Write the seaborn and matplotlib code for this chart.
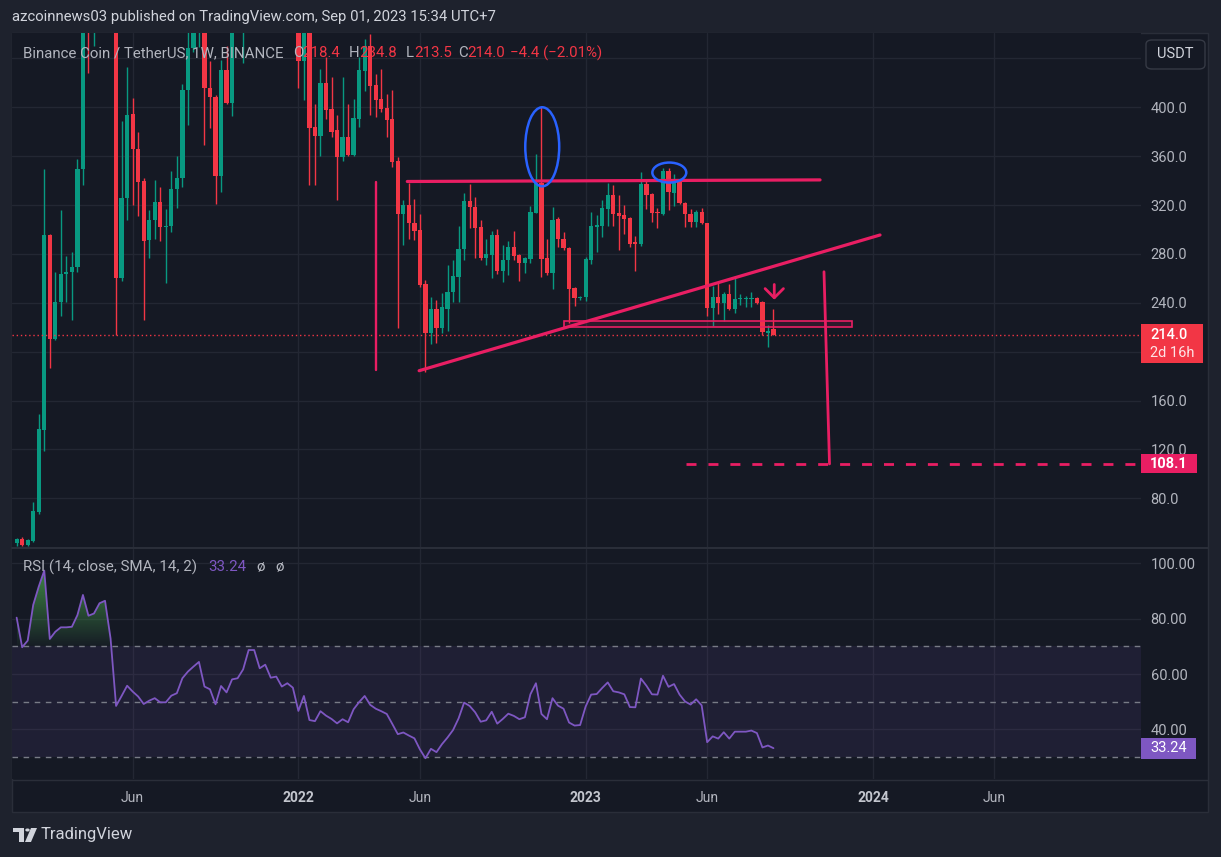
import matplotlib
matplotlib.use("Agg")
import numpy as np
import pandas as pd
import matplotlib.pyplot as plt
import matplotlib.dates as mdates
import matplotlib.transforms as mtransforms
from matplotlib.path import Path
from matplotlib.lines import Line2D
from matplotlib.colors import to_rgb
from matplotlib.patches import Rectangle, Ellipse, FancyBboxPatch, Polygon, Circle
import seaborn as sns

# weekly BNB/USDT candles, first week 2021-01-11
START = "2021-01-11"
opens = [43.1, 46.4, 42.0, 45.0, 69.0, 136.2, 295.5, 210.4, 240.7, 263.3,
         265.0, 269.3, 349.5, 510.0, 498.0, 530.0, 610.0, 640.0, 520.0, 260.6,
         325.5, 394.5, 365.6, 339.5, 291.0, 307.8, 322.5, 302.3, 302.5, 332.9,
         341.9, 414.2, 448.3, 490.0, 498.0, 416.0, 408.7, 344.0, 430.6, 403.8,
         470.0, 485.0, 550.0, 590.0, 640.0, 570.0, 600.0, 580.0, 540.0, 530.0,
         545.0, 512.0, 438.2, 470.0, 384.2, 376.5, 420.2, 398.6, 381.4, 359.6,
         376.0, 361.0, 390.5, 430.0, 450.2, 418.3, 406.5, 399.7, 390.5, 356.1,
         312.4, 320.1, 305.6, 299.6, 255.4, 215.5, 234.6, 219.6, 234.6, 248.6,
         261.4, 283.8, 323.3, 318.1, 301.8, 277.0, 279.1, 295.5, 266.3, 275.0,
         285.9, 279.1, 272.9, 275.8, 313.8, 337.8, 276.4, 264.7, 308.6, 292.0,
         284.6, 251.8, 243.7, 245.0, 275.0, 302.3, 302.9, 316.8, 328.2, 313.8,
         311.9, 309.1, 289.8, 288.1, 337.2, 329.0, 314.6, 312.7, 347.9, 330.2,
         339.2, 322.0, 312.4, 306.4, 314.0, 305.0, 235.5, 245.0, 239.6, 247.2,
         234.6, 242.8, 242.8, 243.3, 244.2, 240.7, 215.4, 218.4]
highs = [47.7, 48.3, 47.0, 77.0, 149.0, 349.5, 296.5, 265.0, 316.0, 278.0,
         281.6, 357.7, 530.0, 638.0, 560.0, 630.0, 692.0, 660.0, 560.0, 389.0,
         433.0, 407.6, 379.8, 342.0, 316.0, 340.5, 334.8, 317.0, 348.0, 360.0,
         419.0, 472.0, 505.0, 518.0, 520.0, 438.0, 410.0, 438.7, 450.0, 490.0,
         500.0, 560.0, 610.0, 670.0, 650.0, 620.0, 640.0, 600.0, 560.0, 570.0,
         580.0, 530.0, 490.0, 490.0, 402.7, 431.4, 441.5, 425.0, 393.7, 425.0,
         402.7, 406.5, 441.0, 455.7, 460.0, 427.3, 431.0, 411.0, 414.2, 359.6,
         324.1, 337.8, 324.7, 312.4, 258.7, 245.0, 242.3, 247.8, 270.9, 275.0,
         302.9, 329.6, 337.2, 326.9, 307.8, 292.0, 298.8, 300.1, 287.3, 290.9,
         298.8, 279.9, 277.8, 319.2, 361.8, 400.0, 292.2, 318.7, 310.0, 298.2,
         286.0, 253.2, 245.8, 277.2, 314.6, 311.9, 324.1, 337.8, 336.4, 328.2,
         320.0, 310.5, 294.7, 347.0, 340.5, 330.2, 317.3, 350.1, 350.3, 345.4,
         341.0, 322.5, 316.8, 316.0, 317.3, 305.6, 253.8, 256.0, 249.1, 255.4,
         262.0, 247.2, 245.6, 249.1, 245.0, 241.7, 221.8, 234.8]
lows = [41.0, 41.0, 41.2, 44.0, 67.0, 119.0, 187.0, 209.6, 229.0, 240.7,
        226.0, 265.5, 336.4, 428.0, 450.5, 500.0, 590.0, 470.0, 213.4, 258.0,
        307.8, 320.0, 311.3, 226.2, 277.0, 292.0, 290.9, 256.0, 298.0, 317.9,
        334.5, 385.5, 445.0, 449.0, 369.0, 383.0, 320.9, 330.7, 402.7, 393.0,
        462.0, 436.0, 520.0, 570.0, 530.0, 550.0, 500.0, 500.0, 480.0, 510.0,
        500.0, 415.6, 406.0, 336.4, 336.4, 360.2, 390.2, 376.0, 324.1, 356.3,
        360.2, 360.0, 384.2, 413.6, 393.7, 391.8, 396.5, 376.0, 351.0, 219.6,
        287.3, 292.0, 291.4, 253.2, 183.0, 206.0, 206.8, 215.5, 217.0, 240.9,
        240.9, 275.0, 301.0, 276.4, 275.0, 270.9, 260.0, 263.6, 257.3, 262.8,
        275.0, 258.1, 264.7, 272.9, 313.8, 261.4, 262.8, 251.0, 286.0, 283.2,
        223.2, 237.4, 242.3, 241.7, 271.5, 281.9, 294.0, 302.9, 302.9, 283.2,
        296.3, 286.0, 266.3, 286.5, 316.8, 306.4, 301.0, 311.9, 316.0, 319.5,
        320.9, 302.3, 302.3, 302.3, 304.2, 229.2, 221.0, 230.8, 225.0, 234.1,
        232.0, 238.0, 236.3, 236.8, 239.0, 213.6, 204.0, 213.5]
closes = [46.4, 42.0, 46.0, 69.6, 136.7, 295.5, 210.4, 240.7, 263.3, 265.5,
          269.3, 349.5, 510.0, 498.0, 530.0, 610.0, 640.0, 520.0, 260.6, 325.5,
          393.7, 365.6, 339.2, 290.9, 307.8, 322.5, 302.3, 303.0, 332.9, 341.9,
          414.2, 448.3, 490.0, 498.0, 416.0, 408.7, 344.0, 430.6, 403.8, 470.0,
          485.0, 550.0, 590.0, 640.0, 570.0, 600.0, 580.0, 540.0, 530.0, 545.0,
          512.0, 438.2, 470.0, 383.4, 376.5, 420.2, 397.8, 380.0, 359.6, 376.0,
          361.0, 391.0, 430.6, 450.2, 417.7, 406.0, 398.6, 389.6, 355.5, 312.4,
          320.1, 305.6, 298.8, 254.6, 215.5, 234.6, 219.6, 236.3, 248.6, 262.0,
          284.0, 323.3, 318.1, 301.5, 277.0, 280.0, 295.5, 266.3, 275.0, 285.9,
          278.6, 272.9, 276.9, 314.6, 337.8, 275.8, 264.7, 307.8, 292.0, 284.6,
          251.0, 243.7, 245.0, 275.6, 302.9, 303.7, 317.3, 328.2, 313.0, 311.0,
          308.6, 288.1, 288.1, 337.2, 328.2, 313.8, 313.2, 347.9, 331.0, 339.2,
          321.4, 312.4, 306.4, 314.0, 305.0, 235.5, 245.0, 239.6, 247.2, 234.6,
          242.8, 243.3, 243.7, 244.2, 240.1, 216.4, 217.2, 214.0]
rsi = [80.4, 69.7, 72.1, 85.0, 91.6, 97.4, 72.7, 75.3, 76.9, 76.9,
       77.1, 81.3, 88.6, 81.1, 81.9, 85.6, 86.5, 72.9, 48.5, 52.1,
       55.8, 53.7, 51.9, 49.2, 50.4, 51.3, 49.8, 49.8, 52.2, 53.1,
       58.5, 60.9, 62.7, 64.4, 55.5, 54.5, 49.1, 55.7, 53.4, 58.1,
       58.5, 61.7, 68.7, 68.7, 62.1, 63.4, 58.7, 59.1, 55.5, 56.7,
       55.1, 46.7, 52.1, 43.4, 43.0, 46.6, 45.0, 43.8, 42.2, 43.7,
       42.6, 47.3, 49.9, 52.1, 48.9, 47.5, 46.6, 45.6, 42.0, 38.3,
       38.9, 37.8, 36.8, 32.8, 29.6, 33.0, 31.8, 34.7, 37.1, 39.8,
       44.0, 49.7, 48.5, 46.2, 42.8, 43.3, 46.4, 42.1, 43.8, 45.7,
       44.9, 43.7, 44.4, 52.7, 56.7, 45.6, 43.7, 51.3, 48.6, 47.5,
       42.5, 41.4, 41.6, 48.3, 52.6, 52.8, 55.0, 57.0, 53.8, 53.4,
       52.7, 48.1, 48.0, 58.4, 55.8, 52.7, 52.6, 59.4, 55.4, 56.4,
       52.6, 50.1, 49.0, 50.9, 48.7, 35.4, 37.5, 36.7, 39.0, 36.7,
       39.2, 39.2, 39.2, 39.6, 38.7, 33.5, 34.2, 33.24]

price_ticks = [80, 120, 160, 200, 240, 280, 320, 360, 400, 440]
rsi_ticks = [40, 60, 80, 100]
time_ticks = ["2021-06-07", "2022-01-03", "2022-06-06", "2023-01-02",
              "2023-06-05", "2024-01-01", "2024-06-03"]
time_labels = ["Jun", "2022", "Jun", "2023", "Jun", "2024", "Jun"]
last_price = 214.0
target_price = 108.1

# chart drawings (date, price)
resistance = (["2022-05-21", "2023-10-26"], [339.3, 340.6])
pole = (["2022-04-11", "2022-04-11"], [339.1, 185.0])
trendline = (["2022-06-05", "2024-01-10"], [184.4, 295.5])
zone = ("2022-12-06", "2023-12-06", 220.4, 224.8)
drop = (["2023-10-31", "2023-11-07"], [265.4, target_price])
target_from = "2023-05-09"
arrow = ("2023-08-29", 255.0, 242.5)
ellipses = [("2022-11-08", 367.7, 43, 64.7), ("2023-04-18", 346.6, 43, 16.4)]

BG_OUT = "#1e222d"
BG = "#151924"
GRID = "#232733"
TXT = "#b2b5be"
UP = "#089981"
DN = "#f23645"
PINK = "#e91e63"
BLUE = "#2962ff"
PURPLE = "#7e57c2"
FS = 10.5

sns.set_theme(style="dark")
plt.rcParams["font.family"] = ["Roboto", "DejaVu Sans"]

W, H = 1221, 857
fig = plt.figure(figsize=(W / 100, H / 100), dpi=100, facecolor=BG_OUT)


def fx(px):
    return px / W


def fy(py):
    return 1 - py / H


D = lambda s: mdates.date2num(pd.Timestamp(s))

fig.add_artist(Rectangle((fx(12), fy(812)), fx(1208) - fx(12), fy(33) - fy(812),
                         transform=fig.transFigure, fc=BG, ec="#2a2e39", lw=1, zorder=0))

ax = fig.add_axes([fx(12.3), fy(547), fx(1141) - fx(12.3), fy(33.3) - fy(547)])
axr = fig.add_axes([fx(12.3), fy(779), fx(1141) - fx(12.3), fy(549) - fy(779)], sharex=ax)

x = mdates.date2num(pd.date_range(START, periods=len(opens), freq="7D"))
o, h, l, c = (np.array(v) for v in (opens, highs, lows, closes))
cols = np.where(c >= o, UP, DN)

for a in (ax, axr):
    a.set_facecolor(BG)
    for s in a.spines.values():
        s.set_visible(False)
    a.grid(True, color=GRID, lw=1)
    a.set_axisbelow(True)

# candles
ax.vlines(x, l, h, colors=cols, lw=1, zorder=3)
ax.bar(x, np.maximum(np.abs(c - o), 0.9), bottom=np.minimum(o, c), width=5.4,
       color=cols, linewidth=0, zorder=4)
ax.axhline(last_price, color=DN, ls=(0, (1, 2)), lw=1, zorder=5)

# drawings
ax.plot([D(d) for d in resistance[0]], resistance[1], color=PINK, lw=2.3, zorder=6)
ax.plot([D(d) for d in pole[0]], pole[1], color=PINK, lw=1.7, zorder=6)
ax.plot([D(d) for d in trendline[0]], trendline[1], color=PINK, lw=2.3, zorder=6)
ax.add_patch(Rectangle((D(zone[0]), zone[2]), D(zone[1]) - D(zone[0]), zone[3] - zone[2],
                       fc=(*to_rgb(PINK), 0.12), ec=PINK, lw=1.2, zorder=6))
ax.plot([D(d) for d in drop[0]], drop[1], color=PINK, lw=2, zorder=6)
xmin, xmax = D("2022-01-03") - 362.5, D("2022-01-03") + 1067.7
ax.plot([D(target_from), xmax], [target_price, target_price], color=PINK, lw=2,
        ls=(0, (3.6, 4.3)), zorder=6)
ax.annotate("", xy=(D(arrow[0]), arrow[2]), xytext=(D(arrow[0]), arrow[1]),
            arrowprops=dict(arrowstyle="->,head_width=0.55,head_length=0.55",
                            color=PINK, lw=2, shrinkA=0, shrinkB=0), zorder=7)
for d, p, w, hh in ellipses:
    ax.add_patch(Ellipse((D(d), p), w, hh, fill=False, ec=BLUE, lw=1.8, zorder=7))

ax.set_xlim(xmin, xmax)
ax.set_ylim(40.1, 460.6)
ax.set_yticks(price_ticks)
ax.set_yticklabels(["" if t in (200, 440) else f"{t:.1f}" for t in price_ticks])
ax.yaxis.tick_right()
ax.tick_params(axis="y", length=0, pad=7, labelcolor=TXT, labelsize=FS)
ax.tick_params(axis="x", length=0, labelbottom=False)
ax.set_xticks([D(t) for t in time_ticks])

# price scale boxes
bt = mtransforms.blended_transform_factory(ax.transAxes, ax.transData)
px_ax = 1 / (1141 - 12.3)
ax.add_patch(Rectangle((1.0, 190.7), 62 * px_ax, 31.9, transform=bt, fc=DN, ec="none",
                       clip_on=False, zorder=10))
ax.text(1.0 + 9 * px_ax, last_price, f"{last_price:.1f}", transform=bt, color="white",
        fontsize=FS, va="center", ha="left", zorder=11, clip_on=False, fontweight="medium")
ax.text(1.0 + 9 * px_ax, 199.1, "2d 16h", transform=bt, color="#fde3e6",
        fontsize=FS, va="center", ha="left", zorder=11, clip_on=False)
ax.add_patch(Rectangle((1.0, 100.4), 56 * px_ax, 15.8, transform=bt, fc=PINK, ec="none",
                       clip_on=False, zorder=10))
ax.text(1.0 + 9 * px_ax, target_price, f"{target_price:.1f}", transform=bt, color="white",
        fontsize=FS, va="center", ha="left", zorder=11, clip_on=False, fontweight="bold")

# RSI pane
r = np.array(rsi)
axr.axhspan(30, 70, color=PURPLE, alpha=0.1, lw=0, zorder=1)
for lev in (70, 50, 30):
    axr.axhline(lev, color="#787b86", lw=1, ls=(0, (4, 4)), zorder=2)
poly = axr.fill_between(x, 70, r, where=r > 70, interpolate=True, color="none", lw=0)
img = np.zeros((256, 1, 4))
img[..., :3] = to_rgb("#4caf50")
img[..., 3] = np.linspace(0.03, 0.8, 256)[:, None]
im = axr.imshow(img, extent=[x[0], x[-1], 70, 100], origin="lower", aspect="auto", zorder=2)
im.set_clip_path(Path.make_compound_path(*poly.get_paths()), transform=axr.transData)
sns.lineplot(x=x, y=r, ax=axr, color=PURPLE, lw=1.3, zorder=4)
axr.set_xlabel("")
axr.set_ylabel("")
axr.set_xlim(xmin, xmax)
axr.set_ylim(22.1, 105.2)
axr.set_yticks(rsi_ticks)
axr.set_yticklabels([f"{t:.2f}" for t in rsi_ticks])
axr.yaxis.tick_right()
axr.tick_params(axis="y", length=0, pad=7, labelcolor=TXT, labelsize=FS)
axr.set_xticks([D(t) for t in time_ticks])
axr.set_xticklabels(time_labels)
axr.tick_params(axis="x", length=0, pad=9, labelcolor=TXT, labelsize=10)
for lab in axr.get_xticklabels():
    if lab.get_text().isdigit():
        lab.set_fontweight("bold")
        lab.set_color("#c3c6ce")

btr = mtransforms.blended_transform_factory(axr.transAxes, axr.transData)
axr.add_patch(Rectangle((1.0, 29.4), 55 * px_ax, 7.5, transform=btr, fc=PURPLE, ec="none",
                        clip_on=False, zorder=10))
axr.text(1.0 + 9 * px_ax, rsi[-1], f"{rsi[-1]:.2f}", transform=btr, color="white",
         fontsize=FS, va="center", ha="left", zorder=11, clip_on=False)

# pane separators
fig.add_artist(Line2D([fx(12), fx(1208)], [fy(548), fy(548)], color="#2a2e39", lw=1.5))
fig.add_artist(Line2D([fx(12), fx(1208)], [fy(779.5), fy(779.5)], color="#2a2e39", lw=1))

# header texts
fig.text(fx(12), fy(17), "azcoinnews03 published on TradingView.com, Sep 01, 2023 15:34 UTC+7",
         color="#d1d4dc", fontsize=10.7, va="center")
legend_parts = [(23, "Binance Coin / TetherUS, 1W, BINANCE", TXT), (293, "O", TXT),
                (302, "218.4", DN), (349, "H", TXT), (359, "234.8", DN), (406, "L", TXT),
                (414, "213.5", DN), (458, "C", TXT), (467, "214.0", DN),
                (510, "\u22124.4 (\u22122.01%)", DN)]
for px, s, col in legend_parts:
    fig.text(fx(px), fy(53), s, color=col, fontsize=10.8, va="center")
fig.text(fx(23), fy(567), "RSI (14, close, SMA, 14, 2)", color=TXT, fontsize=10.9, va="center")
fig.text(fx(208), fy(567), f"{rsi[-1]:.2f}", color=PURPLE, fontsize=10.9, va="center")
fig.text(fx(256), fy(567), "\u00f8", color=TXT, fontsize=10.9, va="center")
fig.text(fx(275), fy(567), "\u00f8", color=TXT, fontsize=10.9, va="center")

# USDT button
fig.add_artist(FancyBboxPatch((fx(1146), fy(69)), fx(1205) - fx(1146), fy(40) - fy(69),
                              boxstyle="round,pad=0,rounding_size=0.005",
                              transform=fig.transFigure, fc=BG, ec="#363a45", lw=1))
fig.text(fx(1175.5), fy(54.5), "USDT", color="#d1d4dc", fontsize=FS, ha="center", va="center")

# TradingView footer
logo = "#d1d4dc"
fig.add_artist(Polygon([(fx(13), fy(828)), (fx(24), fy(828)), (fx(24), fy(842)),
                        (fx(19), fy(842)), (fx(19), fy(832)), (fx(13), fy(832))],
                       closed=True, transform=fig.transFigure, fc=logo, ec="none"))
fig.add_artist(Circle((fx(27.5), fy(830)), 2.2 / W, transform=fig.transFigure, fc=logo, ec="none"))
fig.add_artist(Polygon([(fx(31), fy(828)), (fx(37), fy(828)), (fx(31), fy(842)), (fx(25), fy(842))],
                       closed=True, transform=fig.transFigure, fc=logo, ec="none"))
fig.text(fx(41), fy(835), "TradingView", color=logo, fontsize=12, va="center")

fig.savefig("out.png", dpi=100, facecolor=BG_OUT)
